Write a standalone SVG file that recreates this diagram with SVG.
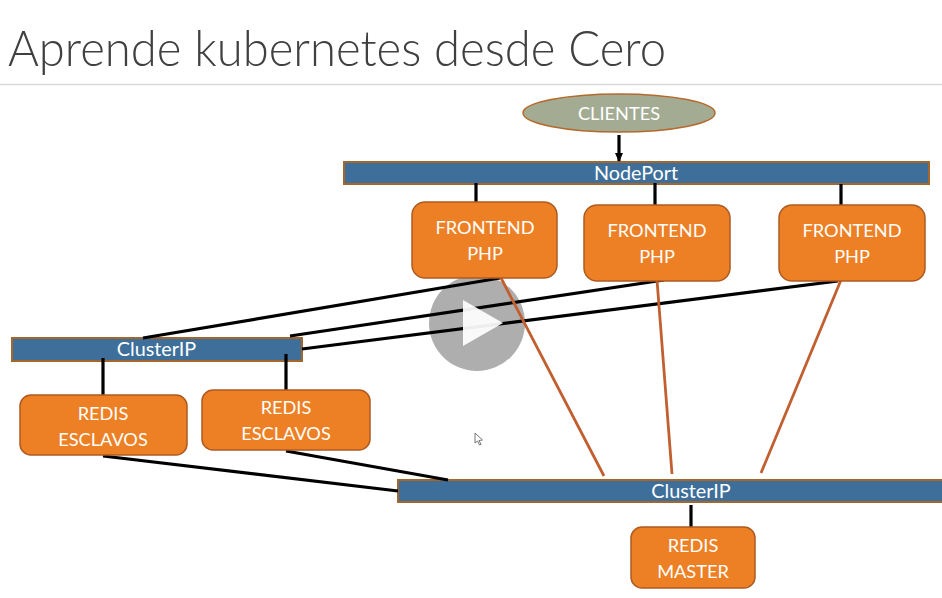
<svg xmlns="http://www.w3.org/2000/svg" width="942" height="598" viewBox="0 0 942 598">
<style>
text{font-family:Lato,"Open Sans","Liberation Sans",sans-serif;fill:#fff;font-size:18.200px;text-anchor:middle}
.mixed{font-size:19.800px}
.title{font-size:49px;font-weight:300;fill:#404040;text-anchor:start}
.box{fill:#ed8024;stroke:#ae5a21;stroke-width:1.500}
.bar{fill:#3e6f9b;stroke:#a5662b;stroke-width:2}
.k{stroke:#000;stroke-width:3.200;fill:none}
.o{stroke:#c15f30;stroke-width:2.800;fill:none}
</style>
<defs><marker id="a" markerUnits="userSpaceOnUse" markerWidth="9" markerHeight="8" refX="8" refY="4" orient="auto"><path d="M0 0L9 4L0 8Z" fill="#000"/></marker></defs>
<rect width="942" height="598" fill="#fff"/>
<text class="title" x="8" y="66" textLength="658" lengthAdjust="spacingAndGlyphs">Aprende kubernetes desde Cero</text>
<path d="M0 84.500H942" stroke="#d9d9d9" stroke-width="1.500"/>
<circle cx="477" cy="323" r="48" fill="#aeaeae"/>
<g id="bar-nodeport"><rect class="bar" x="344" y="162" width="585" height="22"/><text class="mixed" x="636" y="180">NodePort</text></g>
<g id="bar-cluster-left"><rect class="bar" x="12" y="338" width="290" height="23"/><text class="mixed" x="156.500" y="356">ClusterIP</text></g>
<g id="bar-cluster-right"><rect class="bar" x="398" y="480" width="546" height="22"/><text class="mixed" x="691" y="498">ClusterIP</text></g>
<g id="connectors">
<path class="k" marker-end="url(#a)" d="M619 135V161"/>
<path class="k" d="M476 183V202M655 183V205M841 184V205"/>
<path class="k" d="M143 338L500 278M290 336L664 280M302 349L838 281"/>
<path class="k" d="M103 358V395M286 354V390"/>
<path class="k" d="M103 456L398 491M286 451L448 480"/>
<path class="k" d="M691 505V527"/>
<path class="o" d="M501 278L604 476M657 280L672 474M841 280L761 473"/>
</g>
<path d="M463 300L503 323L463 346Z" fill="#fff" opacity=".93"/>
<g id="clientes"><ellipse cx="619" cy="113" rx="96" ry="19" fill="#a3ac93" stroke="#b5692b" stroke-width="1.500"/><text x="619" y="120">CLIENTES</text></g>
<g id="frontend-1"><rect class="box" x="412" y="202" width="145" height="76" rx="13"/><text x="485" y="234">FRONTEND</text><text x="485" y="260">PHP</text></g>
<g id="frontend-2"><rect class="box" x="584" y="205" width="146" height="76" rx="13"/><text x="657" y="237">FRONTEND</text><text x="657" y="263">PHP</text></g>
<g id="frontend-3"><rect class="box" x="779" y="205" width="146" height="76" rx="13"/><text x="852" y="237">FRONTEND</text><text x="852" y="263">PHP</text></g>
<g id="redis-esclavos-1"><rect class="box" x="20" y="395" width="167" height="60" rx="11"/><text x="103" y="420">REDIS</text><text x="103" y="446">ESCLAVOS</text></g>
<g id="redis-esclavos-2"><rect class="box" x="202" y="390" width="168" height="60" rx="11"/><text x="286" y="414">REDIS</text><text x="286" y="440">ESCLAVOS</text></g>
<g id="redis-master"><rect class="box" x="631" y="527" width="124" height="61" rx="11"/><text x="693" y="552">REDIS</text><text x="693" y="578">MASTER</text></g>
<path d="M475 433V443L477.500 441L479.500 445L481 444.300L479 440.500L482.500 440Z" fill="#fff" stroke="#777"/>
</svg>
